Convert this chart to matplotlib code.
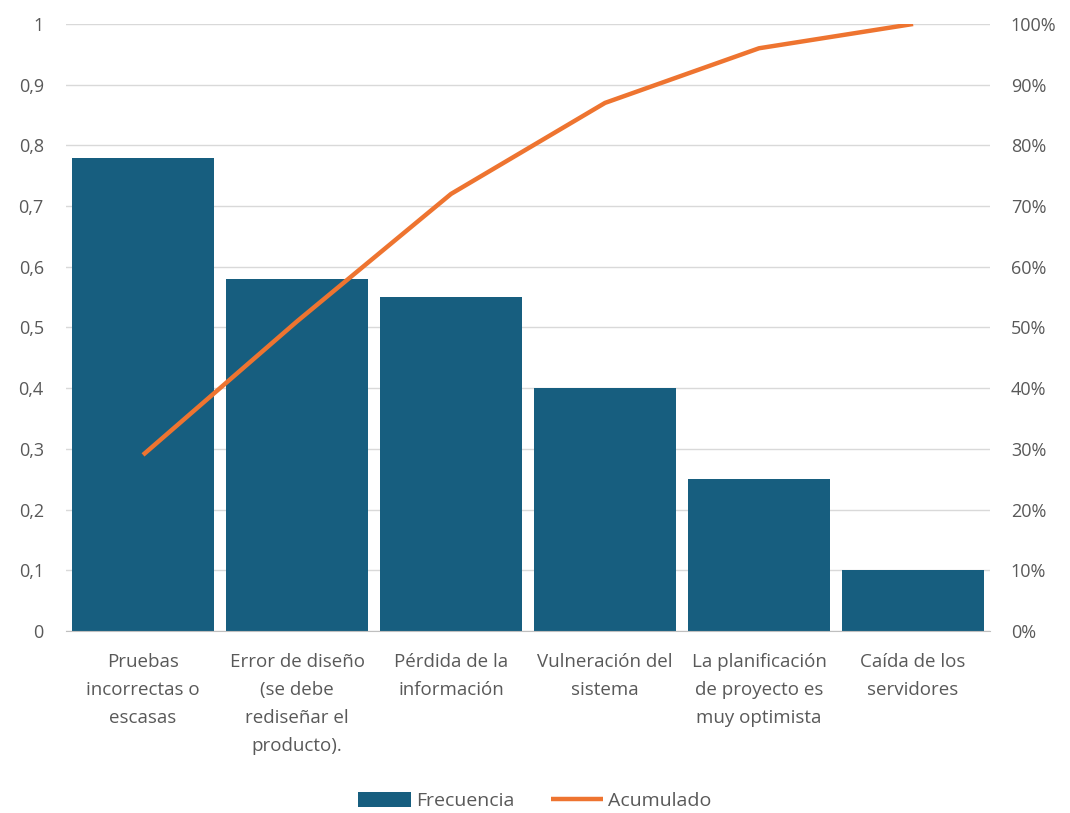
import matplotlib
matplotlib.use("Agg")
import matplotlib.pyplot as plt
from matplotlib.ticker import FuncFormatter, MultipleLocator

categories = [
    "Pruebas\nincorrectas o\nescasas",
    "Error de diseño\n(se debe\nrediseñar el\nproducto).",
    "Pérdida de la\ninformación",
    "Vulneración del\nsistema",
    "La planificación\nde proyecto es\nmuy optimista",
    "Caída de los\nservidores",
]
frecuencia = [0.78, 0.58, 0.55, 0.40, 0.25, 0.10]
acumulado = [0.29, 0.51, 0.72, 0.87, 0.96, 1.00]

plt.rcParams['font.family'] = ['Open Sans', 'DejaVu Sans']
txt = '#595959'
bar_c = '#175e7f'
line_c = '#ee7430'

fig = plt.figure(figsize=(10.7, 8.13), dpi=100)
ax = fig.add_axes([0.0617, 0.224, 0.8636, 0.7465])
x = list(range(len(categories)))
b = ax.bar(x, frecuencia, width=0.92, color=bar_c, zorder=2, label='Frecuencia')
ax.set_xlim(-0.5, len(categories) - 0.5)
ax.set_ylim(0, 1)
ax.yaxis.set_major_locator(MultipleLocator(0.1))
ax.yaxis.set_major_formatter(FuncFormatter(lambda v, p: ('%g' % round(v, 1)).replace('.', ',')))
ax.grid(axis='y', color='#d9d9d9', linewidth=1, zorder=0)
ax.set_axisbelow(True)
for s in ['top', 'right', 'left']:
    ax.spines[s].set_visible(False)
ax.spines['bottom'].set_color('#bfbfbf')
ax.set_xticks(x)
ax.set_xticklabels(categories, fontsize=13.5, color=txt, linespacing=1.72)
ax.tick_params(axis='x', length=0, pad=16)
ax.tick_params(axis='y', length=0, labelsize=13, labelcolor=txt, pad=16)

ax2 = ax.twinx()
l, = ax2.plot(x, acumulado, color=line_c, linewidth=3.2, label='Acumulado', solid_capstyle='butt')
ax2.set_ylim(0, 1)
ax2.yaxis.set_major_locator(MultipleLocator(0.1))
ax2.yaxis.set_major_formatter(FuncFormatter(lambda v, p: '%d%%' % round(v * 100)))
for s in ax2.spines.values():
    s.set_visible(False)
ax2.tick_params(axis='y', length=0, labelsize=13, labelcolor=txt, pad=15)

fig.legend([b, l], ['Frecuencia', 'Acumulado'], loc='center', bbox_to_anchor=(0.5, 0.015),
           ncol=2, frameon=False, fontsize=14, labelcolor=txt, handlelength=2.7,
           handletextpad=0.25, columnspacing=1.9, handleheight=0.85)
fig.savefig('out.png', dpi=100)
